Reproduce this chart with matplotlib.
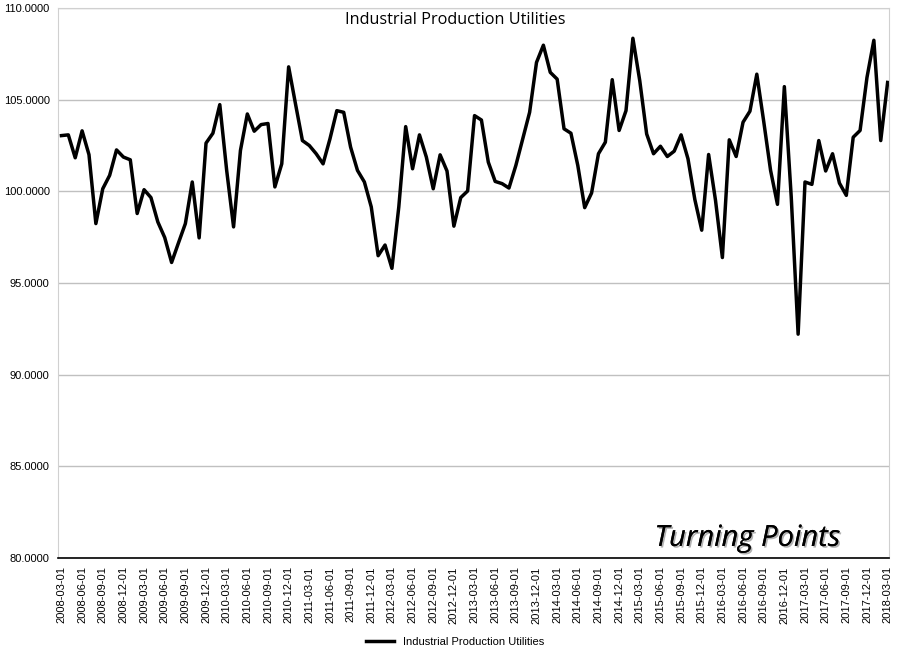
import pandas as pd
import matplotlib.pyplot as plt
import matplotlib.patheffects as pe

dates = pd.date_range('2008-03-01', '2018-03-01', freq='MS').strftime('%Y-%m-%d').tolist()

values = [
    103.04, 103.08, 101.83, 103.30, 102.00, 98.24, 100.14, 100.87, 102.26, 101.87,
    101.72, 98.79, 100.09, 99.66, 98.33, 97.48, 96.12, 97.19, 98.24, 100.51,
    97.46, 102.63, 103.17, 104.73, 101.14, 98.06, 102.23, 104.22, 103.28, 103.64,
    103.70, 100.24, 101.50, 106.79, 104.76, 102.77, 102.50, 102.05, 101.50, 102.86,
    104.40, 104.31, 102.41, 101.14, 100.51, 99.15, 96.49, 97.07, 95.80, 99.15,
    103.53, 101.23, 103.08, 101.87, 100.14, 101.99, 101.11, 98.10, 99.66, 100.02,
    104.13, 103.89, 101.59, 100.54, 100.42, 100.18, 101.41, 102.86, 104.31, 107.03,
    107.97, 106.49, 106.12, 103.41, 103.17, 101.41, 99.11, 99.91, 102.05, 102.68,
    106.09, 103.32, 104.40, 108.35, 106.03, 103.13, 102.05, 102.46, 101.90, 102.19,
    103.08, 101.78, 99.55, 97.88, 102.01, 99.51, 96.39, 102.81, 101.90, 103.77,
    104.37, 106.39, 103.82, 101.14, 99.29, 105.71, 99.69, 92.21, 100.51, 100.38,
    102.77, 101.11, 102.05, 100.45, 99.78, 102.95, 103.32, 106.21, 108.24, 102.77,
    105.94,
]

series_name = 'Industrial Production Utilities'

plt.rcParams['font.family'] = ['Liberation Sans', 'DejaVu Sans']

fig = plt.figure(figsize=(9.1, 6.6), dpi=100)
ax = fig.add_axes([58 / 910, 1 - 558 / 660, 831 / 910, 550 / 660])

x = list(range(len(values)))
ax.plot(x, values, color='black', linewidth=2.5, label=series_name)

ax.set_ylim(80, 110)
ax.set_yticks(range(80, 111, 5))
ax.set_yticklabels([f'{v:.4f}' for v in range(80, 111, 5)], fontsize=8)
ax.set_xlim(-0.5, 120.2)
ax.set_xticks(x[::3])
ax.set_xticklabels(dates[::3], rotation=90, fontsize=8)
ax.tick_params(length=0, pad=6)

ax.grid(axis='y', color='#c0c0c0', linewidth=1)
ax.set_axisbelow(True)
for side in ['top', 'right', 'left']:
    ax.spines[side].set_color('#d0d0d0')
ax.spines['bottom'].set_color('black')
ax.spines['bottom'].set_linewidth(1.2)

# title sits centred on the figure, not the plot area
fig.text(0.5, 1 - 12 / 660, series_name, ha='center', va='top',
         fontsize=11.7, family=['Open Sans', 'DejaVu Sans'])

ax.text(0.941, 0.022, 'Turning Points', transform=ax.transAxes, ha='right', va='baseline',
        fontsize=21, style='italic', family=['Open Sans', 'DejaVu Sans'],
        path_effects=[pe.withSimplePatchShadow(offset=(1.2, -1.2), alpha=0.3), pe.Normal()])

fig.legend(loc='lower center', bbox_to_anchor=(0.5, 0.005), frameon=False, fontsize=8,
           handlelength=2.5)

fig.savefig('out.png', dpi=100)
